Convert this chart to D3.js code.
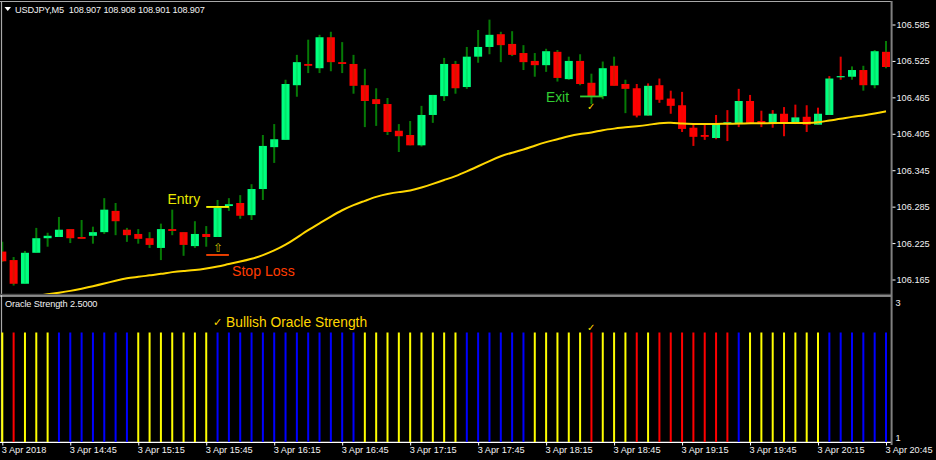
<!DOCTYPE html>
<html>
<head>
<meta charset="utf-8">
<script src="https://cdn.jsdelivr.net/npm/d3@7/dist/d3.min.js"></script>
<style>
html,body{margin:0;padding:0;background:#000;overflow:hidden}
svg{display:block}
text{font-family:"Liberation Sans",Arial,sans-serif}
</style>
</head>
<body>
<svg id="chart" width="936" height="460"></svg>
<script>
const symbolTitle = "USDJPY,M5  108.907 108.908 108.901 108.907";
const indicatorTitle = "Oracle Strength 2.5000";
const opens = [106.211,106.197,106.158,106.209,106.233,106.235,106.248,106.235,106.237,106.243,106.278,106.247,106.240,106.233,106.217,106.248,106.243,106.220,106.240,106.235,106.286,106.291,106.271,106.314,106.383,106.395,106.485,106.520,106.513,106.564,106.523,106.520,106.485,106.462,106.454,106.410,106.403,106.386,106.436,106.467,106.520,106.482,106.532,106.548,106.569,106.553,106.538,106.525,106.518,106.540,106.495,106.525,106.489,106.467,106.517,106.487,106.480,106.435,106.485,106.463,106.452,106.415,106.403,106.398,106.421,106.421,106.459,106.426,106.421,106.438,106.423,106.433,106.420,106.436,106.499,106.499,106.510,106.485,106.540];
const highs = [106.227,106.202,106.212,106.250,106.242,106.268,106.248,106.263,106.252,106.299,106.291,106.250,106.248,106.243,106.257,106.280,106.243,106.261,106.253,106.296,106.299,106.304,106.322,106.403,106.421,106.494,106.535,106.560,106.568,106.573,106.556,106.535,106.512,106.480,106.464,106.421,106.426,106.451,106.469,106.530,106.525,106.548,106.576,106.593,106.573,106.574,106.551,106.538,106.545,106.543,106.532,106.536,106.504,106.524,106.532,106.494,106.487,106.488,106.496,106.476,106.474,106.420,106.420,106.436,106.444,106.479,106.469,106.443,106.444,106.449,106.453,106.452,106.448,106.500,106.532,106.516,106.517,106.543,106.558];
const lows = [106.194,106.155,106.158,106.209,106.219,106.235,106.225,106.232,106.224,106.240,106.238,106.227,106.224,106.217,106.197,106.238,106.204,106.217,106.219,106.235,106.278,106.265,106.263,106.296,106.357,106.395,106.466,106.505,106.505,106.508,106.505,106.471,106.416,106.418,106.403,106.375,106.386,106.384,106.423,106.459,106.471,106.479,106.522,106.536,106.523,106.533,106.510,106.499,106.507,106.491,106.494,106.485,106.454,106.462,106.484,106.439,106.432,106.435,106.456,106.438,106.408,106.385,106.395,106.396,106.393,106.416,106.421,106.416,106.415,106.401,106.421,106.408,106.420,106.436,106.494,106.494,106.476,106.480,106.513];
const closes = [106.195,106.158,106.209,106.233,106.237,106.247,106.233,106.232,106.243,106.280,106.261,106.238,106.232,106.222,106.248,106.245,106.222,106.240,106.235,106.283,106.289,106.270,106.314,106.385,106.396,106.487,106.523,106.517,106.564,106.523,106.520,106.484,106.459,106.454,106.408,106.401,106.386,106.436,106.469,106.520,106.480,106.532,106.548,106.568,106.551,106.535,106.523,106.518,106.541,106.497,106.525,106.487,106.467,106.513,106.484,106.479,106.435,106.484,106.461,106.451,106.413,106.400,106.400,106.421,106.424,106.459,106.423,106.421,106.438,106.423,106.432,106.420,106.438,106.496,106.500,106.510,106.485,106.541,106.515];
const movingAverage = [null,null,null,106.1379,106.1406,106.1433,106.1461,106.1499,106.1538,106.1582,106.1631,106.1675,106.1692,106.1719,106.1741,106.1774,106.1791,106.1802,106.1829,106.1862,106.1906,106.1944,106.1988,106.2049,106.2126,106.2219,106.2340,106.2466,106.2576,106.2686,106.2795,106.2878,106.2944,106.3015,106.3059,106.3092,106.3108,106.3163,106.3224,106.3289,106.3350,106.3432,106.3514,106.3602,106.3684,106.3739,106.3789,106.3855,106.3915,106.3959,106.4014,106.4047,106.4069,106.4113,106.4135,106.4157,106.4173,106.4195,106.4228,106.4234,106.4217,106.4212,106.4212,106.4212,106.4217,106.4217,106.4223,106.4223,106.4228,106.4228,106.4228,106.4228,106.4234,106.4272,106.4294,106.4332,106.4349,106.4382,106.4420];
const strengthStates = ["Y","R","Y","Y","Y","B","B","B","B","B","B","B","Y","Y","Y","Y","Y","Y","Y","B","B","B","B","B","B","B","B","B","B","B","B","B","Y","Y","Y","Y","Y","Y","Y","Y","Y","B","B","B","B","B","B","Y","Y","Y","Y","Y","R","Y","Y","Y","R","Y","R","R","R","R","R","R","R","B","Y","Y","Y","Y","Y","Y","Y","B","B","B","B","B","B"];
const wickStates = ["G","G","G","G","G","G","G","G","G","G","G","G","G","G","G","G","G","G","G","G","G","G","G","G","G","G","G","G","G","G","G","G","G","G","G","G","G","G","G","G","G","G","G","G","G","G","G","G","G","G","G","G","G","G","G","G","R","R","R","R","R","R","R","R","R","R","R","R","R","R","R","R","R","R","R","G","G","G","G"];
const strengthValue = 2.5;
const strengthBase = 1;
const priceTicks = [106.585,106.525,106.465,106.405,106.345,106.285,106.225,106.165];
const strengthTicks = [3,1];
const timeTickBars = [0,6,12,18,24,30,36,42,48,54,60,66,72,78];
const timeTickLabels = ["3 Apr 2018","3 Apr 14:45","3 Apr 15:15","3 Apr 15:45","3 Apr 16:15","3 Apr 16:45","3 Apr 17:15","3 Apr 17:45","3 Apr 18:15","3 Apr 18:45","3 Apr 19:15","3 Apr 19:45","3 Apr 20:15","3 Apr 20:45"];
const entryPrice = 106.2845, entryBars = [18,20];
const stopPrice = 106.2054, stopBars = [18,20];
const exitPrice = 106.4665, exitBars = [51,53];

const bars = d3.range(opens.length);
const svg = d3.select("#chart");
const x = d3.scaleLinear().domain([0,78]).range([2.3,886]);
const y = d3.scaleLinear().domain([106.165,106.585]).range([279.5,24.5]);
const yS = d3.scaleLinear().domain([1,3]).range([442,296]);
const stateColor = d3.scaleOrdinal().domain(["Y","B","R"]).range(["#ffff00","#0000ff","#ff0000"]);
const wickColor = d3.scaleOrdinal().domain(["G","R"]).range(["#067a06","#e00000"]);
const bodyW = 8, wickW = 2;

const defs = svg.append("defs");
defs.append("clipPath").attr("id","mainClip").append("rect").attr("x",2).attr("y",2).attr("width",889).attr("height",292);

// frame
const frame = svg.append("g");
const main = svg.append("g").attr("clip-path","url(#mainClip)");

// wicks, bodies, centre stripes
main.selectAll(".wick").data(bars).join("line").attr("class","wick")
  .attr("x1",i=>x(i)).attr("x2",i=>x(i)).attr("y1",i=>y(highs[i])).attr("y2",i=>y(lows[i]))
  .attr("stroke",i=>wickColor(wickStates[i])).attr("stroke-width",wickW);
main.selectAll(".body").data(bars).join("rect").attr("class","body")
  .attr("x",i=>x(i)-bodyW/2).attr("width",bodyW)
  .attr("y",i=>y(Math.max(opens[i],closes[i])))
  .attr("height",i=>Math.max(1.2,Math.abs(y(opens[i])-y(closes[i]))))
  .attr("fill",i=>closes[i]>=opens[i]?"#00ff7f":"#ff0000");
main.selectAll(".stripe").data(bars).join("line").attr("class","stripe")
  .attr("x1",i=>x(i)).attr("x2",i=>x(i))
  .attr("y1",i=>y(Math.max(opens[i],closes[i]))).attr("y2",i=>y(Math.min(opens[i],closes[i])))
  .attr("stroke",i=>wickColor(wickStates[i])).attr("stroke-width",wickW).attr("stroke-opacity",0.18);

// moving average
const maLine = d3.line().defined(i=>movingAverage[i]!==null).x(i=>x(i)).y(i=>y(movingAverage[i])).curve(d3.curveBasis);
main.append("path").datum(bars.slice(3)).attr("d",maLine).attr("fill","none").attr("stroke","#ffd700").attr("stroke-width",2);

// histogram
svg.append("g").selectAll("line").data(bars).join("line")
  .attr("x1",i=>x(i)).attr("x2",i=>x(i)).attr("y1",yS(strengthValue)).attr("y2",yS(strengthBase))
  .attr("stroke",i=>stateColor(strengthStates[i])).attr("stroke-width",2);

// frame lines
frame.append("line").attr("x1",0).attr("x2",892).attr("y1",1.5).attr("y2",1.5).attr("stroke","#a8a8a8").attr("stroke-width",1.2);
frame.append("line").attr("x1",1.5).attr("x2",1.5).attr("y1",1).attr("y2",443).attr("stroke","#a8a8a8").attr("stroke-width",1.2);
frame.append("line").attr("x1",0).attr("x2",892).attr("y1",294.5).attr("y2",294.5).attr("stroke","#4a4a4a").attr("stroke-width",1.5);
frame.append("line").attr("x1",0).attr("x2",892).attr("y1",296).attr("y2",296).attr("stroke","#ffffff").attr("stroke-width",1.2);
frame.append("line").attr("x1",0).attr("x2",892).attr("y1",442.4).attr("y2",442.4).attr("stroke","#ffffff").attr("stroke-width",1.2);
frame.append("line").attr("x1",891.6).attr("x2",891.6).attr("y1",1).attr("y2",445).attr("stroke","#808080").attr("stroke-width",2);

// axes
const yAxis = d3.axisRight(y).tickValues(priceTicks).tickFormat(d3.format(".3f")).tickSize(3).tickPadding(1);
const gy = svg.append("g").attr("transform","translate(892.5,0)").call(yAxis);
const yS2 = d3.axisRight(yS).tickValues(strengthTicks).tickFormat(d3.format("d")).tickSize(0).tickPadding(3);
const gs = svg.append("g").attr("transform","translate(892.5,0)").call(yS2);
gs.selectAll("text").attr("dy",(d)=>d===3?"9.5":"-2");
const xAxis = d3.axisBottom(x).tickValues(timeTickBars).tickFormat(d=>timeTickLabels[timeTickBars.indexOf(d)]).tickSize(3).tickPadding(1);
const gx = svg.append("g").attr("transform","translate(0,442.5)").call(xAxis);
gx.selectAll("text").attr("text-anchor","start").attr("dx",-1);
[gy,gs,gx].forEach(g=>{
  g.select(".domain").remove();
  g.selectAll("line").attr("stroke","#ffffff");
  g.selectAll("text").attr("fill","#f2f2f2").attr("font-size",9.2).attr("font-family",'"Liberation Sans",Arial,sans-serif');
});

// titles
svg.append("path").attr("d",d3.line()([[4.5,7],[11,7],[7.75,11]])+"Z").attr("fill","#ffffff");
svg.append("text").attr("x",15).attr("y",12.5).attr("fill","#f2f2f2").attr("font-size",9.2).attr("letter-spacing",-0.15).style("white-space","pre").text(symbolTitle);
svg.append("text").attr("x",5).attr("y",307).attr("fill","#f2f2f2").attr("font-size",9.2).attr("letter-spacing",-0.12).text(indicatorTitle);

// annotations
const hline=(bs,p,c)=>svg.append("line").attr("x1",x(bs[0])).attr("x2",x(bs[1])).attr("y1",y(p)).attr("y2",y(p)).attr("stroke",c).attr("stroke-width",1.8);
hline(entryBars,entryPrice,"#ffff00");
hline(stopBars,stopPrice,"#ff4500");
hline(exitBars,exitPrice,"#32cd32");
const label=(t,px,py,c,fs,ff)=>svg.append("text").attr("x",px).attr("y",py).attr("fill",c).attr("font-size",fs).attr("font-family",ff||'"Liberation Sans",Arial,sans-serif').text(t);
label("Entry",167.5,204,"#e8e800",14);
label("Stop Loss",232,275.7,"#ff3c00",14.1);
label("Exit",546,102,"#32cd32",13.8);
label("Bullish Oracle Strength",226,327,"#ffd700",13.8);
label("✓",213,326,"#ffd700",11,'"DejaVu Sans"');
label("✓",587,110,"#ffd700",10,'"DejaVu Sans"');
label("✓",587,331,"#ffd700",10,'"DejaVu Sans"');
label("⇧",212.5,251.5,"#c8c000",12,'"DejaVu Sans"');
</script>
</body>
</html>
